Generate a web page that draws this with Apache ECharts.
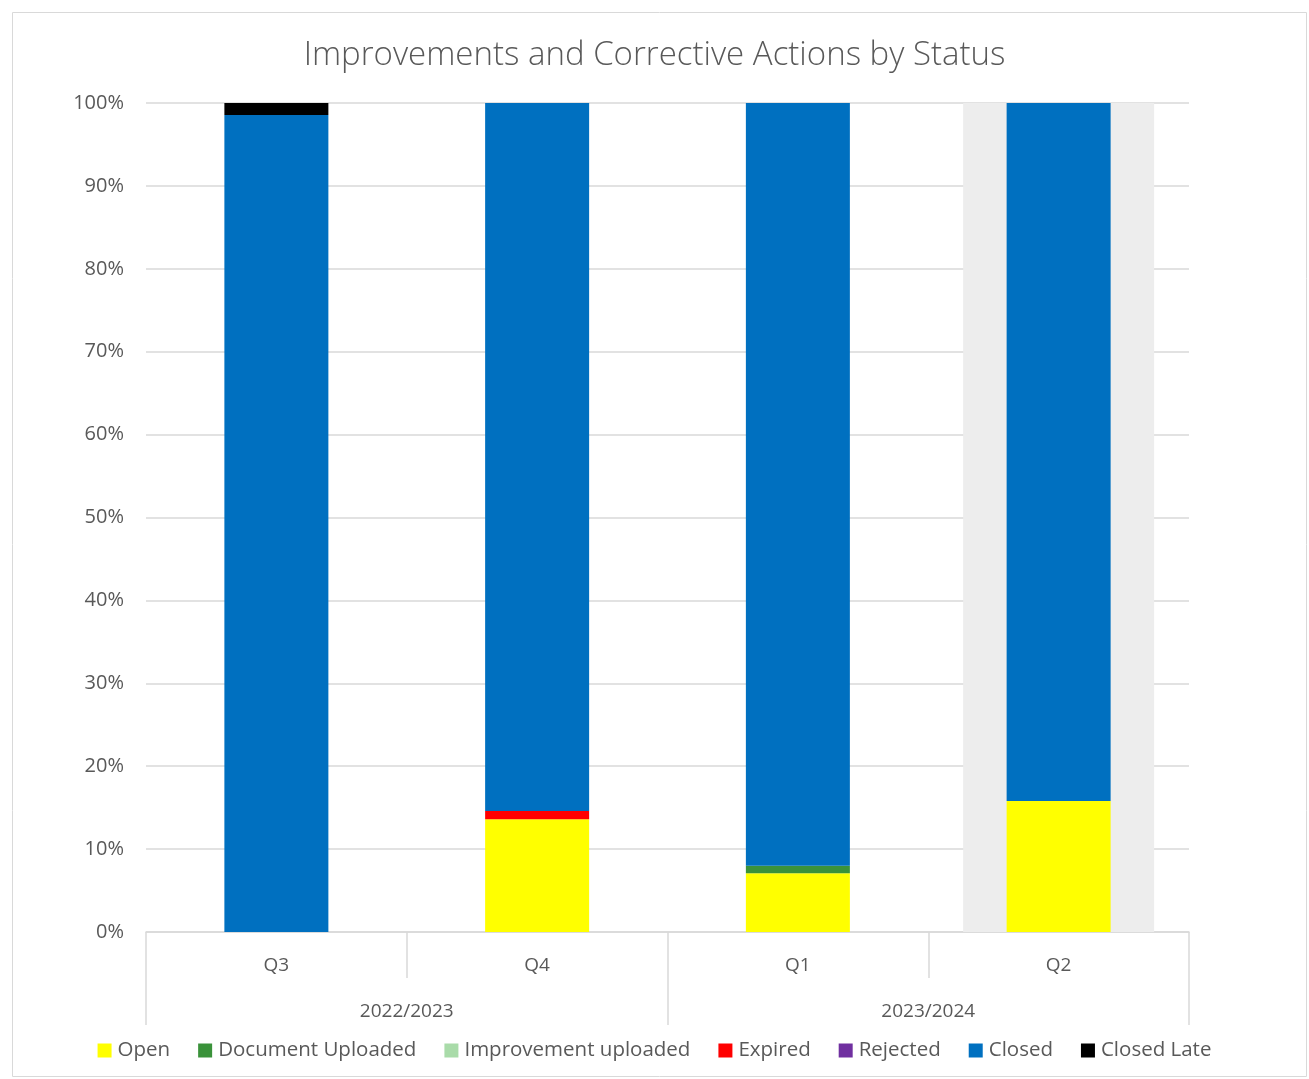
<!DOCTYPE html>
<html>
<head>
<meta charset="utf-8">
<script src="https://cdn.jsdelivr.net/npm/echarts@6/dist/echarts.min.js"></script>
<style>html,body{margin:0;padding:0;background:#fff}#c{width:1309px;height:1079px}</style>
</head>
<body>
<div id="c"></div>
<script>
const quarters = ['Q3', 'Q4', 'Q1', 'Q2'];
const years = ['2022/2023', '2023/2024'];
const yTicks = [0, 10, 20, 30, 40, 50, 60, 70, 80, 90, 100];
const open = [0, 13.6, 7.1, 15.8];
const documentUploaded = [0, 0, 0.9, 0];
const improvementUploaded = [0, 0, 0, 0];
const expired = [0, 1.0, 0, 0];
const rejected = [0, 0, 0, 0];
const closed = [98.55, 85.4, 92.0, 84.2];
const closedLate = [1.45, 0, 0, 0];
const highlight = [null, null, null, 100];

const seriesDefs = [
  ['Open', open, '#FFFF00'],
  ['Document Uploaded', documentUploaded, '#3A923A'],
  ['Improvement uploaded', improvementUploaded, '#A9DBA9'],
  ['Expired', expired, '#FF0000'],
  ['Rejected', rejected, '#7030A0'],
  ['Closed', closed, '#0070C0'],
  ['Closed Late', closedLate, '#000000']
];
const FONT = 'Open Sans';
const chart = echarts.init(document.getElementById('c'));
const series = [{
  name: 'highlight', type: 'bar', xAxisIndex: 2, data: highlight, barWidth: 191,
  itemStyle: { color: '#EDEDED' }, silent: true, z: 1, animation: false
}];
seriesDefs.forEach(([n, d, c]) => series.push({
  name: n, type: 'bar', stack: 'all', data: d, barWidth: 104, xAxisIndex: 0,
  itemStyle: { color: c }, z: 3, animation: false
}));
chart.setOption({
  animation: false,
  textStyle: { fontFamily: FONT },
  title: {
    text: 'Improvements and Corrective Actions by Status', left: 'center', top: 34,
    textStyle: { fontFamily: FONT, fontWeight: 300, fontSize: 33, color: '#595959' }
  },
  graphic: [{ type: 'rect', left: 10, top: 10, shape: { width: 1294, height: 1064 },
    style: { fill: 'none', stroke: '#D9D9D9', lineWidth: 1 }, silent: true }],
  legend: {
    data: seriesDefs.map(s => s[0]), bottom: 13, left: 'center', itemWidth: 14, itemHeight: 14,
    itemGap: 28, icon: 'rect',
    textStyle: { fontFamily: FONT, fontSize: 20.5, color: '#595959', padding: [0, 0, 0, 1] }
  },
  grid: { left: 146, right: 120, top: 103, bottom: 147 },
  xAxis: [
    { type: 'category', data: quarters, position: 'bottom',
      axisLine: { show: true, lineStyle: { color: '#D9D9D9', width: 1.5 } },
      axisTick: { show: true, interval: 0, length: 46, alignWithLabel: false, lineStyle: { color: '#D9D9D9', width: 1.5 } },
      axisLabel: { margin: 24, fontFamily: FONT, fontSize: 19, color: '#595959' } },
    { type: 'category', data: years, position: 'bottom',
      axisLine: { show: false },
      axisTick: { show: true, interval: 0, length: 93, lineStyle: { color: '#D9D9D9', width: 1.5 } },
      axisLabel: { margin: 70, fontFamily: FONT, fontSize: 19, color: '#595959' } },
    { type: 'category', data: quarters, show: false }
  ],
  yAxis: {
    type: 'value', min: yTicks[0], max: yTicks[yTicks.length - 1], interval: 10,
    axisLine: { show: false }, axisTick: { show: false },
    splitLine: { lineStyle: { color: '#D9D9D9', width: 1.5 } },
    axisLabel: { formatter: '{value}%', margin: 22, fontFamily: FONT, fontSize: 20, color: '#595959' }
  },
  series: series
});
</script>
</body>
</html>
